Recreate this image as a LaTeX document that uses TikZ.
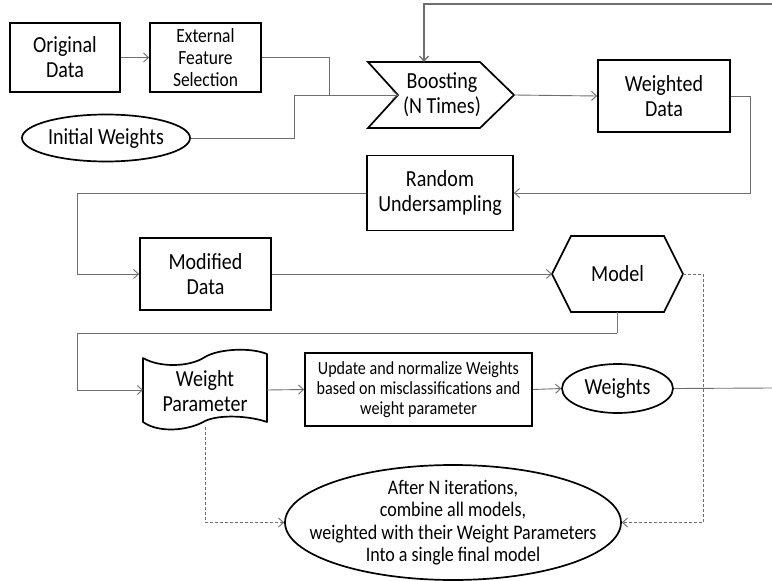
\documentclass[tikz,border=0pt]{standalone}
\usepackage{fontspec}
\setmainfont{Carlito}[FakeStretch=0.87]
\usetikzlibrary{arrows.meta,shapes.geometric}
\definecolor{linegray}{RGB}{110,110,110}
\definecolor{lineblue}{RGB}{79,129,189}
\begin{document}
\begin{tikzpicture}[x=1pt,y=-1pt,
  shapeline/.style={line width=1.7pt,draw=black},
  box/.style={shapeline,rectangle,inner sep=0pt,align=center,font=\fontsize{23}{25}\selectfont},
  oval/.style={shapeline,ellipse,inner xsep=-40pt,inner ysep=-15pt,align=center,font=\fontsize{23}{25}\selectfont},
  txt/.style={inner sep=0pt,align=center,font=\fontsize{23}{25}\selectfont},
  tip/.style={-{Straight Barb[length=5pt,width=9pt]}},
  conn/.style={draw=linegray,line width=0.9pt,tip},
  plainline/.style={draw=linegray,line width=0.9pt},
  dashconn/.style={draw=linegray,line width=0.9pt,dash pattern=on 3pt off 2pt,tip}
]
\useasboundingbox (0,0) rectangle (772,581);

% --- top row ---
\node[box,minimum width=110pt,minimum height=69pt] (orig) at (65,57.5) {Original\\Data};
\node[box,minimum width=111pt,minimum height=69pt,font=\fontsize{20.1}{22}\selectfont] (ext) at (205.5,57.5) {External\\Feature\\Selection};
\node[oval,minimum width=168pt,minimum height=47pt] (init) at (106,138) {Initial Weights};

% Boosting chevron
\draw[shapeline,line join=miter] (368,62) -- (480,62) -- (514,95) -- (480,128) -- (368,128) -- (398,95) -- cycle;
\node[txt] (boost) at (442,95) {Boosting\\(N Times)};
\coordinate (bnotch) at (398,95);
\coordinate (btip) at (514,95);
\coordinate (btop) at (424,62);

\node[box,minimum width=132pt,minimum height=72pt] (wd) at (664,96) {Weighted\\Data};

% --- middle ---
\node[box,minimum width=146pt,minimum height=75pt] (ru) at (440,193) {Random\\Undersampling};
\node[box,minimum width=131pt,minimum height=72pt] (md) at (205.5,274) {Modified\\Data};

% Model hexagon
\draw[shapeline,line join=miter] (552,274) -- (571,236) -- (664,236) -- (683,274) -- (664,312) -- (571,312) -- cycle;
\node[txt] (model) at (617.5,274) {Model};
\coordinate (mwest) at (552,274);
\coordinate (meast) at (683,274);
\coordinate (msouth) at (617,312);

% --- lower row ---
% Weight Parameter (punched tape)
\draw[shapeline,line join=round] (143,358) .. controls (160,368) and (190,367) .. (205,357)
  .. controls (218,349) and (250,347) .. (267,354) -- (267,422)
  .. controls (250,416) and (220,414) .. (205,421)
  .. controls (190,430) and (160,434) .. (143,422) -- cycle;
\node[txt] (wp) at (205,391) {Weight\\Parameter};
\coordinate (wpwest) at (143,390);
\coordinate (wpeast) at (267,390);
\coordinate (wpsouth) at (205,427);

\node[box,minimum width=227pt,minimum height=73pt,font=\fontsize{18.5}{20}\selectfont] (upd) at (418.5,389.5) {Update and normalize Weights\\based on misclassifications and\\weight parameter};
\node[oval,minimum width=111pt,minimum height=49pt] (w) at (617.5,388.5) {Weights};

\node[oval,inner xsep=-60pt,inner ysep=-30pt,minimum width=336pt,minimum height=115pt,font=\fontsize{20.7}{22.5}\selectfont] (final) at (453,522.5) {After N iterations,\\combine all models,\\weighted with their Weight Parameters\\Into a single final model};

% right edge coordinates
\coordinate (redgetop) at (772,4);
\coordinate (redgew) at (772,388);

% --- connectors ---
\draw[conn] (orig.east) -- (ext.west);
\draw[conn] (ext.east) -- (329,57.5) |- (bnotch);
\draw[plainline] (init.east) -- (294,138) |- (bnotch);
\draw[conn,line width=1.3pt] (redgetop) -- (424,4) -- (btop);
\draw[conn] (btip) -- (wd.west);
\draw[conn] (wd.east) -- (750,96) |- (ru.east);
\draw[conn] (ru.west) -| (77,274) -- (md.west);
\draw[conn] (md.east) -- (mwest);
\draw[draw=lineblue,line width=0.9pt] (msouth) -- (617,333);
\draw[conn] (617,333) -- (77,333) |- (wpwest);
\draw[conn] (wpeast) -- (upd.west);
\draw[conn] (upd.east) -- (w.west);
\draw[plainline] (w.east) -- (redgew);
\draw[dashconn] (wpsouth) |- (final.west);
\draw[dashconn] (meast) -- (703,274) |- (final.east);
\end{tikzpicture}
\end{document}
